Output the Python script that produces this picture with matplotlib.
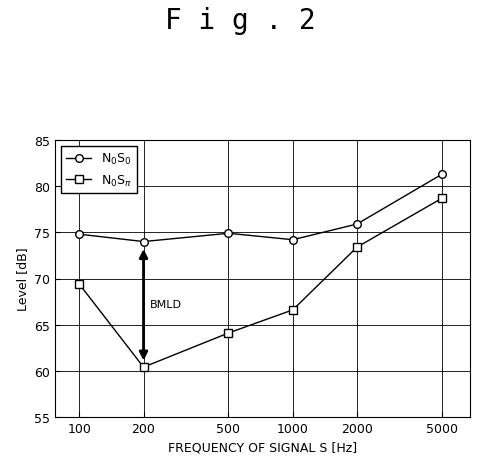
import matplotlib
matplotlib.use("Agg")
import matplotlib.pyplot as plt

freqs = [100, 200, 500, 1000, 2000, 5000]
n0s0 = [74.8, 74.0, 74.9, 74.2, 75.9, 81.3]
n0spi = [69.4, 60.4, 64.1, 66.6, 73.4, 78.7]
yticks = [55, 60, 65, 70, 75, 80, 85]

fig = plt.figure(figsize=(4.8, 4.64), dpi=100)
fig.text(0.5, 0.955, "F i g . 2", ha="center", va="center", fontsize=20, family="DejaVu Sans Mono")
ax = fig.add_axes([55/480, 1-418/464, 415/480, 277/464])
ax.plot(freqs, n0s0, "-o", color="black", mfc="white", ms=5.5, lw=1, label=r"N$_0$S$_0$")
ax.plot(freqs, n0spi, "-s", color="black", mfc="white", ms=5.5, lw=1, label=r"N$_0$S$_\pi$")
ax.set_xscale("log")
ax.set_xlim(77, 6760)
ax.set_ylim(55, 85)
ax.set_xticks(freqs)
ax.set_xticklabels([str(f) for f in freqs])
ax.minorticks_off()
ax.set_yticks(yticks)
ax.grid(True, color="black", lw=0.6)
ax.tick_params(labelsize=9, direction="in")
ax.set_xlabel("FREQUENCY OF SIGNAL S [Hz]", fontsize=9)
ax.set_ylabel("Level [dB]", fontsize=9)
ax.annotate("", xy=(200, 60.8), xytext=(200, 73.5),
            arrowprops=dict(arrowstyle="<|-|>", color="black", lw=2, mutation_scale=12))
ax.text(215, 67.2, "BMLD", fontsize=8, va="center", ha="left")
ax.legend(loc="upper left", fancybox=False, edgecolor="black", fontsize=9, framealpha=1)
fig.savefig("out.png", dpi=100)
